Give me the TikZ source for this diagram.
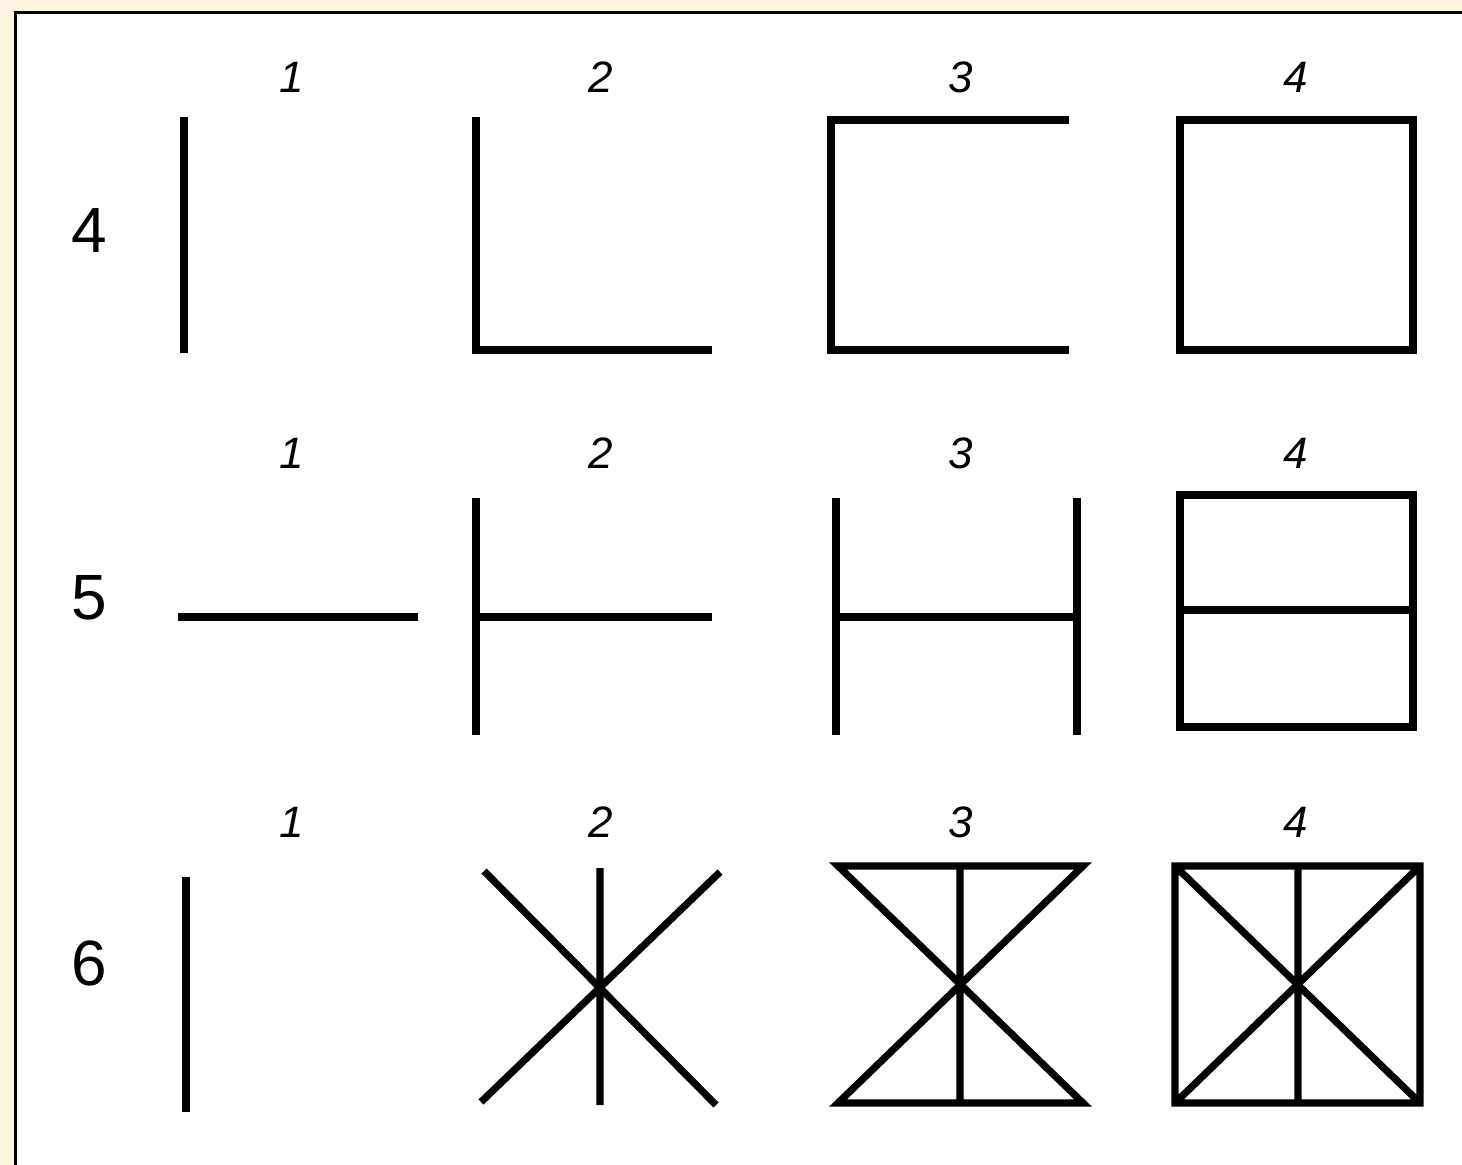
\documentclass[tikz,border=0pt]{standalone}
\usepackage{fontspec}
\setmainfont{Liberation Sans}
\begin{document}
\begin{tikzpicture}[x=0.5pt,y=-0.5pt,
  fig/.style={line width=3.6pt,line cap=butt,line join=miter},
  rowlab/.style={font=\fontsize{32}{36}\selectfont,inner sep=0pt},
  collab/.style={font=\fontsize{22}{26}\selectfont\itshape,inner sep=0pt}]
\useasboundingbox (0,0) rectangle (1462,1165);
\definecolor{cream}{HTML}{FDF5DF}
\fill[cream] (0,0) rectangle (1462,1165);
\draw[fill=white,line width=1.5pt] (15,13) rectangle (1475,1180);
% row labels
\node[rowlab] (r4) at (89,230) {4};
\node[rowlab] (r5) at (89,598) {5};
\node[rowlab] (r6) at (89,963) {6};
% column labels
\foreach \y/\n in {77/a,453/b,822/c}{
  \node[collab] (c1\n) at (292,\y) {1};
  \node[collab] (c2\n) at (601,\y) {2};
  \node[collab] (c3\n) at (961,\y) {3};
  \node[collab] (c4\n) at (1296,\y) {4};
}
% row 4
\draw[fig] (184,117) -- (184,353);
\draw[fig] (476,117) -- (476,350) -- (712,350);
\draw[fig] (1069,120) -- (831,120) -- (831,350) -- (1069,350);
\draw[fig] (1180,120) rectangle (1413,350);
% row 5
\draw[fig] (178,617) -- (418,617);
\draw[fig] (476,498) -- (476,735) (476,617) -- (712,617);
\draw[fig] (836,498) -- (836,735) (1077,498) -- (1077,735) (836,617) -- (1077,617);
\draw[fig] (1180,495) rectangle (1413,727) (1180,610) -- (1413,610);
% row 6
\draw[fig] (186,877) -- (186,1112);
\draw[fig] (600,868) -- (600,1105) (484,871) -- (716,1105) (720,872) -- (481,1102);
\draw[fig] (838,866) -- (1083,866) -- (838,1103) -- (1083,1103) -- cycle (960,866) -- (960,1103);
\draw[fig] (1175,866) rectangle (1420,1103) (1175,866) -- (1420,1103) (1420,866) -- (1175,1103) (1298,866) -- (1298,1103);
\end{tikzpicture}
\end{document}
